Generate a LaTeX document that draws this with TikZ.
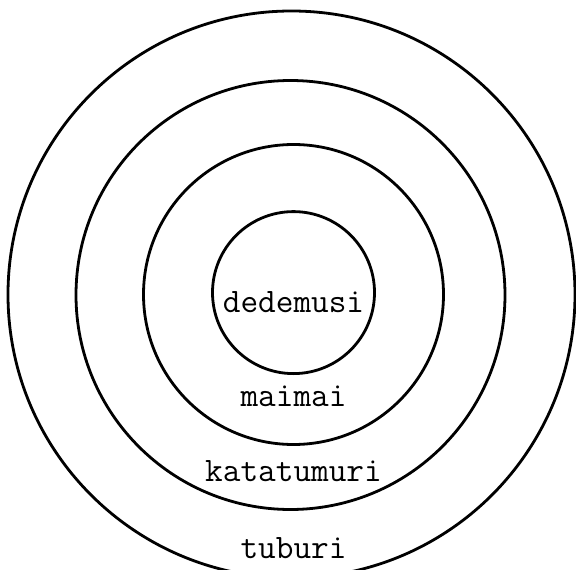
\documentclass[tikz,border=0pt]{standalone}
\usepackage{fontspec}
\begin{document}
\begin{tikzpicture}[x=1pt,y=-1pt,
  ring/.style={draw=black,line width=2.8pt},
  lbl/.style={font=\ttfamily\fontsize{34.3}{34.3}\selectfont,inner sep=0pt,anchor=base}]
\useasboundingbox[fill=white] (0,0) rectangle (576,570);
\draw[ring] (291.5,294.5) circle[radius=283.5];
\draw[ring] (290.5,295) circle[radius=214.5];
\draw[ring] (293.5,294.5) circle[radius=150];
\draw[ring] (293.5,292.6) circle[radius=81];
\node[lbl] (d) at (293.5,312) {dedemusi};
\node[lbl] (m) at (293.5,406) {maimai};
\node[lbl] (k) at (293.5,481) {katatumuri};
\node[lbl] (t) at (293.5,558) {tuburi};
\end{tikzpicture}
\end{document}
